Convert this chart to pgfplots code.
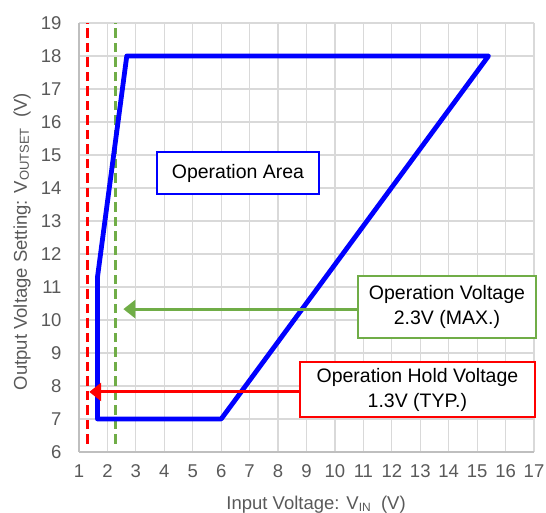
\documentclass[border=0pt]{standalone}
\usepackage{fontspec}
\setmainfont{Liberation Sans}
\usepackage{pgfplots}
\pgfplotsset{compat=1.18}
\usetikzlibrary{arrows.meta}
\definecolor{tickgray}{HTML}{595959}
\definecolor{gridgray}{HTML}{D9D9D9}
\definecolor{axgray}{HTML}{BFBFBF}
\definecolor{opgreen}{HTML}{70AD47}
\begin{document}
\begin{tikzpicture}[x=1pt,y=1pt]
\useasboundingbox (0,0) rectangle (546,513);
\begin{axis}[
  at={(79pt,61pt)}, anchor=south west,
  scale only axis, width=455pt, height=429pt,
  xmin=1, xmax=17, ymin=6, ymax=19,
  xtick={1,...,17}, ytick={6,...,19},
  grid=major, grid style={gridgray, line width=1.2pt},
  axis x line*=bottom, axis y line*=left,
  axis line style={axgray, line width=1.4pt, -},
  major tick length=0,
  clip=false,
  /pgf/number format/assume math mode=true,
  tick label style={font=\fontsize{18.5}{18.5}\selectfont, text=tickgray},
  xticklabel style={yshift=-9pt},
  yticklabel style={xshift=-14pt},
  xlabel={Input Voltage: V\raisebox{-2pt}{\fontsize{12}{12}\selectfont IN}\ \ (V)},
  ylabel={Output Voltage Setting: V\raisebox{-2pt}{\fontsize{13}{13}\selectfont OUTSET}\ \ (V)},
  label style={font=\fontsize{18.5}{18.5}\selectfont, text=tickgray},
  xlabel style={at={(axis description cs:0.521,-0.122)}, anchor=center},
  ylabel style={at={(axis description cs:-0.125,0.49)}, anchor=center},
]
\addplot[red, line width=3pt, dash pattern=on 9.5pt off 5pt] coordinates {(1.3,6.25) (1.3,19)};
\addplot[opgreen, line width=3pt, dash pattern=on 9.5pt off 5pt] coordinates {(2.3,6.25) (2.3,19)};
\addplot[blue, line width=4.8pt, line join=round] coordinates {(1.65,7) (1.65,11.3) (2.68,18) (15.4,18) (6,7)} -- cycle;
\addplot[opgreen, line width=3pt, -{Triangle[length=12pt,width=18pt]}] coordinates {(10.85,10.33) (2.56,10.33)};
\addplot[red, line width=3pt, -{Triangle[length=12pt,width=18pt]}] coordinates {(8.8,7.82) (1.36,7.82)};
\node[draw=blue, line width=2pt, fill=white, minimum width=162pt, minimum height=42pt, inner sep=0pt, font=\fontsize{19.5}{23}\selectfont] at (axis cs:6.59,14.45) {Operation Area};
\node[draw=opgreen, line width=2pt, fill=white, minimum width=178pt, minimum height=62pt, inner sep=0pt, align=center, font=\fontsize{19.5}{25}\selectfont] at (axis cs:13.94,10.39) {Operation Voltage\\2.3V (MAX.)};
\node[draw=red, line width=2pt, fill=white, minimum width=235pt, minimum height=55pt, inner sep=0pt, align=center, font=\fontsize{19.5}{25}\selectfont] at (axis cs:12.90,7.89) {Operation Hold Voltage\\1.3V (TYP.)};
\end{axis}
\end{tikzpicture}
\end{document}
